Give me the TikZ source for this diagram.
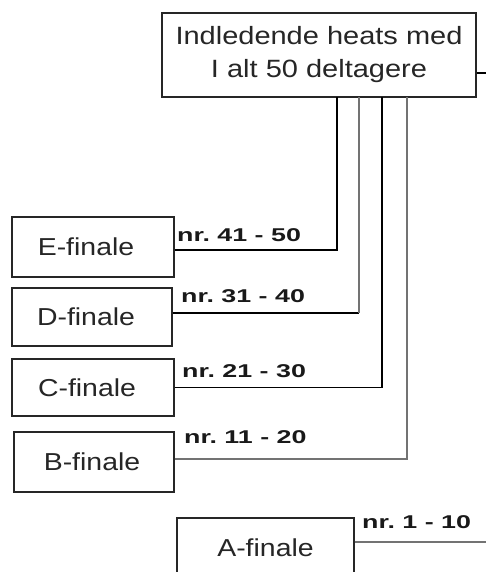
\documentclass[tikz,border=0pt]{standalone}
\usepackage{fontspec}
\newfontfamily\boxfont{Liberation Sans}[FakeStretch=1.16]
\newfontfamily\labfont{Liberation Sans}[FakeStretch=1.45]
\begin{document}
\begin{tikzpicture}[x=1pt,y=-1pt,
  box/.style={draw=black!85, line width=1.2pt, fill=white, inner sep=0pt,
    font=\boxfont\fontsize{24.5}{33}\selectfont, text=black!85},
  lab/.style={anchor=base west, inner sep=0pt, font=\labfont\bfseries\fontsize{18.5}{20}\selectfont, text=black!90},
  blk/.style={draw=black, line width=1.4pt},
  gry/.style={draw=black!55, line width=1.2pt}]
\useasboundingbox (0,0) rectangle (486,572);
\clip (0,0) rectangle (486,572);
% top box
\node[box, minimum width=314, minimum height=84, align=center,
  font=\boxfont\fontsize{25}{33}\selectfont] (T) at (319,55)
  {Indledende heats med\\I alt 50 deltagere};
% finals
\node[box, minimum width=162, minimum height=60] (E) at (93,247) {\hspace*{-14pt}E-finale};
\node[box, minimum width=160, minimum height=58] (D) at (92,317) {\hspace*{-12pt}D-finale};
\node[box, minimum width=162, minimum height=57] (C) at (93,387.5) {\hspace*{-12pt}C-finale};
\node[box, minimum width=160, minimum height=60] (B) at (94,462) {\hspace*{-4pt}B-finale};
\node[box, minimum width=177, minimum height=60] (A) at (265.5,548) {A-finale};
% anchor points
\coordinate (t1) at (337,97);
\coordinate (t2) at (359,97);
\coordinate (t3) at (382,97);
\coordinate (t4) at (407,97);
\coordinate (rT) at (486,73);
\coordinate (rA) at (486,542);
\coordinate (d2) at (359,313);
% connectors
\draw[blk] ([yshift=-3pt]E.east) -| (t1);
\draw[blk] ([yshift=4pt]D.east) -- (d2);
\draw[gry] (d2) -- (t2);
\draw[blk] (C.east) -| (t3);
\draw[gry] ([yshift=3pt]B.east) -| (t4);
\draw[blk] ([yshift=-18pt]T.east) -- (rT);
\draw[gry] ([yshift=6pt]A.east) -- (rA);
% labels
\node[lab] (lE) at (177,241) {nr.\ 41 - 50};
\node[lab] (lD) at (181,302) {nr.\ 31 - 40};
\node[lab] (lC) at (182,377) {nr.\ 21 - 30};
\node[lab] (lB) at (184,443) {nr.\ 11 - 20};
\node[lab] (lA) at (362,528) {nr.\ 1 - 10};
\end{tikzpicture}
\end{document}
